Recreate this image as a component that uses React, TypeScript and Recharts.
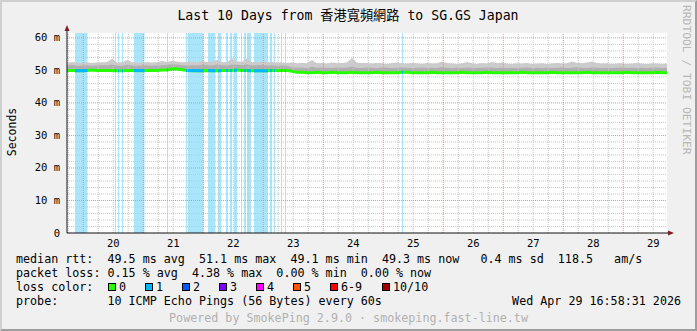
import {
  ComposedChart,
  Area,
  Line,
  XAxis,
  YAxis,
  ReferenceArea,
  ReferenceLine,
  CartesianGrid,
} from "recharts";

// time axis: hours after Apr 19 00:00, one sample every 2 hours
const START_HOUR = 17.5;
const STEP_HOURS = 2;
const END_HOUR = 257.5;

// median rtt (ms)
const medianMs = [
  50.0, 50.0, 49.9, 49.9, 50.0, 50.1, 50.0, 50.0, 50.0, 50.0,
  49.9, 49.9, 50.0, 50.0, 49.9, 49.9, 50.0, 50.0, 50.0, 50.1,
  50.1, 50.5, 50.4, 50.2, 50.0, 49.9, 49.9, 49.9, 50.0, 49.9,
  49.9, 50.0, 50.0, 50.0, 50.1, 50.0, 50.0, 49.9, 49.9, 49.9,
  49.9, 50.0, 50.0, 50.0, 50.0, 49.7, 49.4, 49.4, 49.3, 49.3,
  49.4, 49.3, 49.3, 49.4, 49.3, 49.3, 49.3, 49.4, 49.3, 49.3,
  49.3, 49.3, 49.4, 49.3, 49.3, 49.3, 49.3, 49.4, 49.4, 49.3,
  49.3, 49.3, 49.3, 49.4, 49.3, 49.3, 49.3, 49.3, 49.3, 49.4,
  49.3, 49.3, 49.3, 49.3, 49.4, 49.3, 49.3, 49.3, 49.3, 49.3,
  49.3, 49.4, 49.3, 49.3, 49.3, 49.3, 49.3, 49.4, 49.3, 49.3,
  49.3, 49.3, 49.3, 49.3, 49.4, 49.3, 49.3, 49.3, 49.3, 49.3,
  49.3, 49.3, 49.4, 49.3, 49.3, 49.3, 49.3, 49.3, 49.4, 49.3, 49.3,
];

// upper edge of the dense smoke (ms)
const smokeMidMs = [
  51.5, 51.7, 51.4, 51.5, 51.6, 51.4, 51.5, 51.6, 51.5, 51.8,
  51.5, 51.4, 51.7, 51.5, 51.4, 51.5, 51.6, 51.4, 51.5, 51.6,
  51.7, 51.9, 51.8, 51.6, 51.5, 51.6, 51.5, 51.7, 51.6, 51.5,
  51.8, 51.6, 51.5, 51.9, 51.7, 51.6, 51.9, 51.5, 51.6, 51.7,
  51.5, 51.6, 51.4, 51.5, 51.4, 51.0, 50.8, 50.9, 50.7, 51.1,
  50.8, 50.9, 50.8, 50.7, 50.9, 50.8, 50.9, 51.2, 50.8, 50.7,
  50.9, 50.8, 50.7, 50.9, 50.8, 50.7, 50.8, 50.9, 50.8, 50.7,
  50.8, 50.9, 50.7, 50.8, 50.7, 51.0, 50.8, 50.7, 50.8, 50.7,
  50.9, 50.8, 50.7, 50.8, 50.9, 50.9, 50.7, 50.8, 50.7, 50.8,
  50.7, 50.8, 50.9, 50.7, 50.8, 50.7, 50.8, 50.7, 50.8, 50.9,
  50.7, 50.8, 51.0, 50.8, 50.7, 50.9, 50.8, 50.7, 50.8, 50.7,
  50.8, 50.9, 50.7, 50.8, 50.7, 50.8, 50.7, 50.8, 50.9, 50.7, 50.8,
];

// slowest ping per sample (ms)
const smokeMaxMs = [
  52.3, 52.6, 52.4, 52.2, 52.5, 52.3, 52.4, 52.5, 52.6, 53.6,
  52.4, 52.5, 53.2, 52.5, 52.4, 52.3, 52.6, 52.4, 52.5, 52.9,
  52.6, 53.0, 52.7, 52.5, 52.6, 52.7, 52.5, 52.9, 52.6, 52.7,
  53.2, 52.6, 52.5, 53.7, 52.8, 52.6, 53.7, 52.6, 52.5, 52.7,
  52.5, 52.6, 52.4, 52.5, 52.3, 52.4, 52.2, 52.3, 52.2, 53.2,
  52.2, 52.3, 52.1, 52.4, 52.2, 52.3, 52.5, 53.8, 52.4, 52.2,
  52.3, 52.1, 52.3, 52.2, 52.0, 52.3, 52.4, 52.2, 52.1, 52.3,
  52.2, 52.0, 52.3, 52.1, 52.2, 52.7, 52.3, 52.1, 52.0, 52.2,
  52.6, 52.2, 52.0, 52.3, 52.1, 52.6, 52.2, 52.4, 52.1, 52.0,
  52.2, 52.1, 52.3, 52.0, 52.1, 52.2, 52.0, 52.1, 52.3, 52.1,
  52.2, 52.7, 52.3, 52.2, 52.4, 52.7, 52.3, 52.1, 52.2, 52.0,
  52.1, 52.2, 52.0, 52.1, 52.3, 52.1, 52.0, 52.2, 52.1, 52.0, 52.1,
];

// periods with 1/10 packet loss (hours after Apr 19 00:00)
const lossStart = [
  20.7, 36.7, 37.9, 39.5, 44.3, 57.5, 65.1, 65.9, 73.9, 77.9, 81.1,
  82.7, 84.3, 87.1, 88.3, 89.5, 92.3, 98.7, 100.3, 103.1, 104.7, 151.5,
];
const lossEnd = [
  25.7, 37.1, 38.3, 39.9, 48.5, 57.9, 65.5, 72.1, 76.9, 79.3, 81.9,
  83.5, 85.5, 87.5, 89.1, 91.1, 97.9, 99.5, 100.7, 103.5, 105.1, 151.9,
];

const dayTicks = [36, 60, 84, 108, 132, 156, 180, 204, 228, 252];
const dayLabels = ["20", "21", "22", "23", "24", "25", "26", "27", "28", "29"];
const msTicks = [0, 10, 20, 30, 40, 50, 60];

const lossColors = ["#26ff00", "#00b8ff", "#0059ff", "#7e00ff", "#ff00ff", "#ff5500", "#ff0000", "#a10000"];
const lossLabels = ["0", "1", "2", "3", "4", "5", "6-9", "10/10"];

const MONO = "'DejaVu Sans Mono', 'Noto Sans CJK TC', monospace";

const chartData = medianMs.map((m, i) => ({
  t: START_HOUR + i * STEP_HOURS,
  median: m,
  inner: [m, smokeMidMs[i]],
  outer: [m, smokeMaxMs[i]],
}));

const medianAt = (t: number) =>
  medianMs[Math.min(medianMs.length - 1, Math.max(0, Math.round((t - START_HOUR) / STEP_HOURS)))];

// median drawn in the 1-loss colour during loss periods
const lossMedian = lossStart.flatMap((a, i) => [
  { t: a, v: medianAt(a) },
  { t: lossEnd[i], v: medianAt(lossEnd[i]) },
  { t: lossEnd[i] + 0.01, v: null },
]);

const minorH: number[] = [];
for (let v = 2; v < 61.5; v += 2) if (v % 10 !== 0) minorH.push(v);
const majorH = [10, 20, 30, 40, 50, 60];
const minorV: number[] = [];
const majorV: number[] = [];
for (let h = 18; h < END_HOUR; h += 6) (h % 24 === 0 ? majorV : minorV).push(h);

const XTick = ({ x, y, payload }: any) => (
  <text x={x} y={y + 14} textAnchor="middle" fontFamily={MONO} fontSize={10.5} fill="#000">
    {dayLabels[dayTicks.indexOf(payload.value)]}
  </text>
);

const YTick = ({ x, y, payload }: any) => (
  <text x={x - 7} y={y + 3.5} textAnchor="end" fontFamily={MONO} fontSize={10.5} fill="#000">
    {payload.value === 0 ? "0" : `${payload.value} m`}
  </text>
);

export default function App() {
  const legend = { fontFamily: MONO, fontSize: 11.7, fill: "#000", style: { whiteSpace: "pre" as const } };
  return (
    <div
      style={{
        position: "relative",
        width: 697,
        height: 331,
        boxSizing: "border-box",
        background: "#f0f0f0",
        borderTop: "2px solid #cfcfcf",
        borderLeft: "2px solid #cfcfcf",
        borderRight: "2px solid #9e9e9e",
        borderBottom: "2px solid #9e9e9e",
      }}
    >
      <style>{"body{margin:0}"}</style>
      <div style={{ position: "absolute", left: -2, top: -2 }}>
        <ComposedChart
          width={697}
          height={331}
          data={chartData}
          margin={{ top: 33, right: 30, bottom: 0, left: 0 }}
        >
          <CartesianGrid horizontal={false} vertical={false} fill="#ffffff" />
          <XAxis
            type="number"
            dataKey="t"
            domain={[START_HOUR, END_HOUR]}
            allowDataOverflow
            ticks={dayTicks}
            tick={<XTick />}
            tickSize={0}
            tickMargin={0}
            tickLine={false}
            height={98}
            axisLine={{ stroke: "#101010" }}
          />
          <YAxis
            type="number"
            domain={[0, 61.5]}
            allowDataOverflow
            ticks={msTicks}
            tick={<YTick />}
            tickSize={0}
            tickMargin={0}
            tickLine={false}
            width={67}
            axisLine={{ stroke: "#101010" }}
          />
          {lossStart.map((a, i) => (
            <ReferenceArea
              key={`loss-${i}`}
              x1={a}
              x2={lossEnd[i]}
              y1={0}
              y2={61.5}
              fill="#aae6fb"
              fillOpacity={1}
              stroke="none"
              ifOverflow="hidden"
            />
          ))}
          <Area
            type="linear"
            dataKey="outer"
            stroke="none"
            fill="#cccccc"
            fillOpacity={1}
            dot={false}
            activeDot={false}
            isAnimationActive={false}
          />
          <Area
            type="linear"
            dataKey="inner"
            stroke="none"
            fill="#b0b0b0"
            fillOpacity={1}
            dot={false}
            activeDot={false}
            isAnimationActive={false}
          />
          {minorH.map((v) => (
            <ReferenceLine key={`mh-${v}`} y={v} stroke="#c7c7c7" strokeDasharray="1 1" />
          ))}
          {minorV.map((v) => (
            <ReferenceLine key={`mv-${v}`} x={v} stroke="#c7c7c7" strokeDasharray="1 1" />
          ))}
          {majorH.map((v) => (
            <ReferenceLine key={`Mh-${v}`} y={v} stroke="#e8908b" strokeDasharray="1 1" />
          ))}
          {majorV.map((v) => (
            <ReferenceLine key={`Mv-${v}`} x={v} stroke="#e8908b" strokeDasharray="1 1" />
          ))}
          <Line
            type="linear"
            dataKey="median"
            stroke="#26ff00"
            strokeWidth={3}
            dot={false}
            activeDot={false}
            isAnimationActive={false}
          />
          <Line
            data={lossMedian}
            type="linear"
            dataKey="v"
            stroke="#00b8ff"
            strokeWidth={3}
            dot={false}
            activeDot={false}
            connectNulls={false}
            isAnimationActive={false}
          />
        </ComposedChart>
      </div>
      <svg width={697} height={331} style={{ position: "absolute", left: -2, top: -2 }}>
        <text x={348} y={20} textAnchor="middle" fontFamily={MONO} fontSize={13.2} fill="#000">
          Last 10 Days from 香港寬頻網路 to SG.GS Japan
        </text>
        <text transform="translate(15.5,132) rotate(-90)" textAnchor="middle" fontFamily={MONO} fontSize={11.5} fill="#000">
          Seconds
        </text>
        <text transform="translate(683,5) rotate(90)" fontFamily={MONO} fontSize={11.3} fill="#b8b8b8">
          RRDTOOL / TOBI OETIKER
        </text>
        <line x1={67} y1={33} x2={67} y2={29} stroke="#101010" />
        <polygon points="64.5,31 69.5,31 67,25" fill="#7f1f1f" />
        <line x1={667} y1={233} x2={670} y2={233} stroke="#101010" />
        <polygon points="668,230.5 668,235.5 674,233" fill="#7f1f1f" />
        <text x={16} y={263} {...legend}>
          {"median rtt:  49.5 ms avg  51.1 ms max  49.1 ms min  49.3 ms now   0.4 ms sd  118.5   am/s"}
        </text>
        <text x={16} y={277} {...legend}>
          {"packet loss: 0.15 % avg  4.38 % max  0.00 % min  0.00 % now"}
        </text>
        <text x={16} y={291} {...legend}>
          {"loss color:"}
        </text>
        {lossLabels.map((lab, i) => {
          const bx = [108, 145, 182, 219, 256, 293, 330, 382][i];
          return (
            <g key={lab}>
              <rect x={bx + 0.5} y={283.5} width={7} height={7} fill={lossColors[i]} stroke="#000" />
              <text x={bx + 11} y={291} {...legend}>
                {lab}
              </text>
            </g>
          );
        })}
        <text x={16} y={305} {...legend}>
          {"probe:       10 ICMP Echo Pings (56 Bytes) every 60s"}
        </text>
        <text x={681} y={305} textAnchor="end" {...legend}>
          {"Wed Apr 29 16:58:31 2026"}
        </text>
        <text x={348.5} y={322} textAnchor="middle" fontFamily={MONO} fontSize={11.7} fill="#b0b0b0" style={{ whiteSpace: "pre" }}>
          {"Powered by SmokePing 2.9.0 · smokeping.fast-line.tw"}
        </text>
      </svg>
    </div>
  );
}
